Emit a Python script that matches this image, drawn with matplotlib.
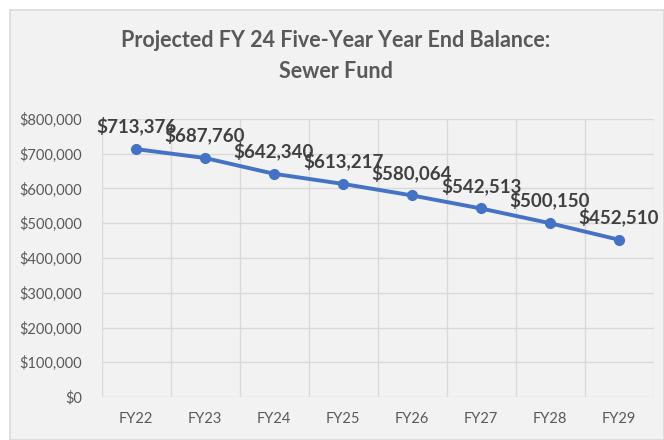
import matplotlib
matplotlib.use('Agg')
import matplotlib.pyplot as plt
from matplotlib.patches import Rectangle
from matplotlib.ticker import FuncFormatter, MultipleLocator

years = ['FY22', 'FY23', 'FY24', 'FY25', 'FY26', 'FY27', 'FY28', 'FY29']
balance = [713376, 687760, 642340, 613217, 580064, 542513, 500150, 452510]

plt.rcParams['font.family'] = ['Lato', 'DejaVu Sans']

fig = plt.figure(figsize=(6.64, 4.4), dpi=100)
fig.patch.set_facecolor('white')

# chart area background + border
fig.add_artist(Rectangle((10 / 664, 0), 654 / 664, 430 / 440, transform=fig.transFigure,
                         facecolor='#F2F2F2', edgecolor='#D9D9D9', linewidth=1.2, zorder=-10))

ax = fig.add_axes([101.5 / 664, 1 - 397 / 440, 552 / 664, 278 / 440])
ax.set_facecolor('#F2F2F2')

x = list(range(len(years)))
ax.plot(x, balance, color='#4472C4', linewidth=2.8, marker='o', markersize=7, zorder=3)

for xi, v in zip(x, balance):
    ax.annotate(f'${v:,.0f}', (xi, v), xytext=(0, 16.5), textcoords='offset points',
                ha='center', va='center', fontsize=13.5, fontweight='bold', color='#404040', zorder=4)

ax.set_xlim(-0.5, len(years) - 0.5)
ax.set_ylim(0, 800000)
ax.yaxis.set_major_locator(MultipleLocator(100000))
ax.yaxis.set_major_formatter(FuncFormatter(lambda v, p: f'${v:,.0f}'))
ax.set_xticks(x)
ax.set_xticklabels(years)

for b in [i - 0.5 for i in range(len(years) + 1)]:
    ax.axvline(b, color='#D9D9D9', linewidth=1, zorder=1)
ax.grid(axis='y', color='#D9D9D9', linewidth=1, zorder=1)
ax.set_axisbelow(True)

for s in ax.spines.values():
    s.set_visible(False)
ax.tick_params(axis='both', length=0, colors='#595959', labelsize=10.5)
ax.tick_params(axis='y', pad=14)
ax.tick_params(axis='x', pad=11)

fig.text(336 / 664, 1 - 56 / 440, 'Projected FY 24 Five-Year Year End Balance:\nSewer Fund',
         ha='center', va='center', fontsize=15.5, fontweight='bold', color='#595959', linespacing=1.55)

fig.savefig('out.png', dpi=100)
